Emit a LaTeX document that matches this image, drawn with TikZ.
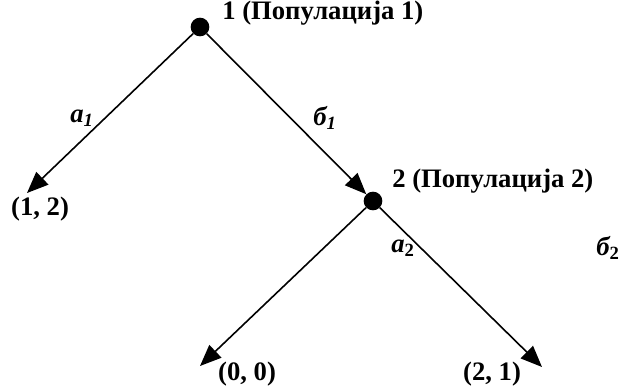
\documentclass[tikz,border=0pt]{standalone}
\usepackage{fontspec}
\setmainfont{Liberation Serif}
\usetikzlibrary{positioning, arrows.meta}
\tikzset{
  dot/.style={circle, fill=black, inner sep=0pt, minimum size=14pt},
  lbl/.style={font=\fontsize{20}{23}\selectfont\bfseries, inner sep=0pt},
  mv/.style={font=\fontsize{20}{23}\selectfont\bfseries\itshape, inner sep=0pt},
  edge/.style={-{Triangle[length=16pt, width=13pt]}, line width=1.2pt},
}

\begin{document}
\begin{tikzpicture}[x=0.75pt, y=-0.75pt]
  \useasboundingbox (0,0) rectangle (621,387);

  \node[dot] (n1) at (200,27)  {};
  \node[dot] (n2) at (373,201) {};

  \coordinate (t1) at (27,193);
  \coordinate (t3) at (200,366);
  \coordinate (t4) at (542,367);

  \node[lbl, anchor=west] (p1) at (222,13)  {1 (Популација 1)};
  \node[lbl, anchor=west] (p2) at (392,181) {2 (Популација 2)};

  \node[lbl] (o1) at (40,209)  {(1, 2)};
  \node[lbl] (o3) at (247,374) {(0, 0)};
  \node[lbl] (o4) at (492,374) {(2, 1)};

  \node[mv] (a1) at (82,118)  {a\textsubscript{1}};
  \node[mv] (b1) at (325,118) {б\textsubscript{1}};
  \node[mv] (a2) at (403,248) {a\textsubscript{\upshape 2}};
  \node[mv] (b2) at (608,248) {б\textsubscript{\upshape 2}};

  \draw[edge] (n1) -- (t1);
  \draw[edge] (n1) -- (n2);
  \draw[edge] (n2) -- (t3);
  \draw[edge] (n2) -- (t4);
\end{tikzpicture}
\end{document}
